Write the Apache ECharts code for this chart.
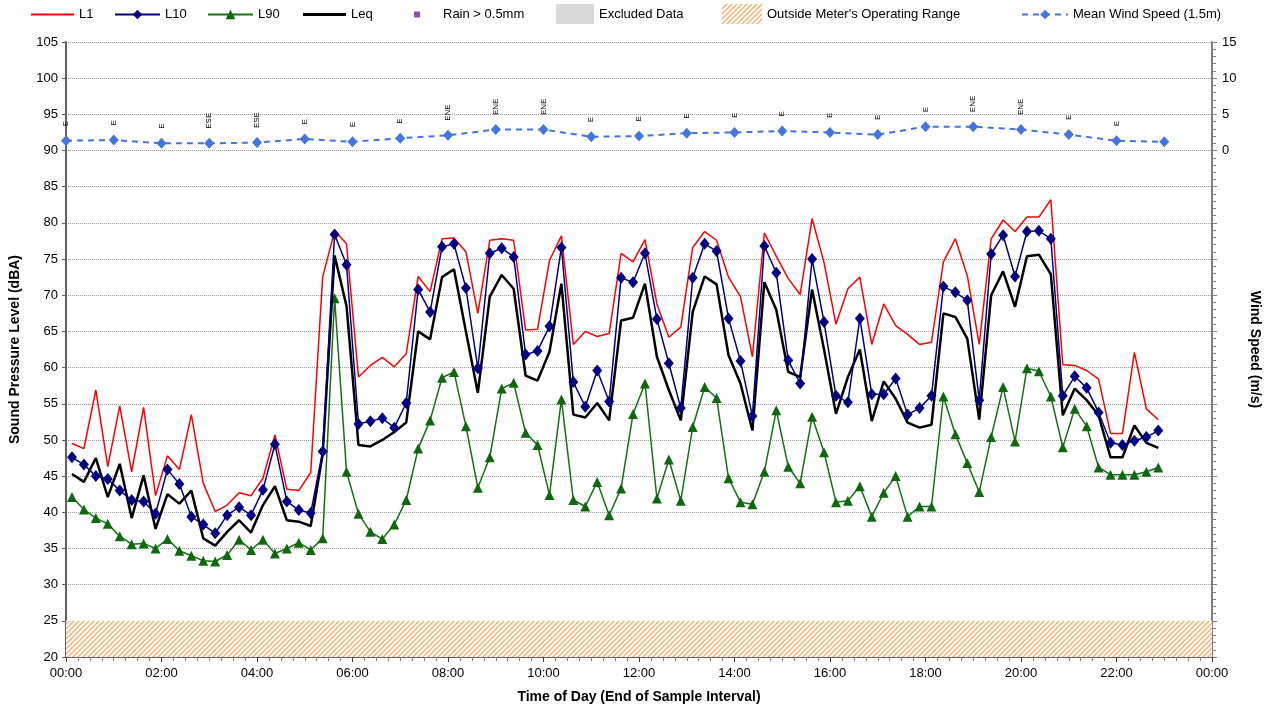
<!DOCTYPE html>
<html>
<head>
<meta charset="utf-8">
<script src="https://cdn.jsdelivr.net/npm/echarts@6/dist/echarts.min.js"></script>
<style>
html,body{margin:0;padding:0;background:#fff;}
#chart{width:1276px;height:714px;}
</style>
</head>
<body>
<div id="chart"></div>
<script>
// ---- data (15-minute samples, plotted at middle of each interval) ----
const sampleStartMin = 7.5;   // first sample position (minutes)
const sampleStepMin = 15;

const L1 = [49.5, 48.8, 56.9, 46.3, 54.7, 45.6, 54.5, 42.3, 47.8, 45.9, 53.5, 44.0, 40.1, 41.0, 42.7, 42.3, 44.7, 50.7, 43.2, 43.0, 45.5, 72.5, 78.9, 77.1, 58.7, 60.3, 61.4, 60.1, 61.9, 72.6, 70.5, 77.8, 77.9,
  76.0, 67.5, 77.6, 77.8, 77.6, 65.2, 65.3, 74.8, 78.2, 63.2, 65.0, 64.3, 64.7, 75.8, 74.6, 77.7, 68.8, 64.2, 65.6, 76.6, 78.8, 77.6, 72.5, 69.8, 61.5, 78.6, 75.4, 72.3, 70.1, 80.6,
  74.5, 66.0, 70.9, 72.5, 63.2, 68.8, 65.8, 64.6, 63.2, 63.5, 74.6, 77.8, 72.7, 63.2, 77.8, 80.4, 78.8, 80.8, 80.8, 83.2, 60.4, 60.3, 59.6, 58.4, 50.9, 50.9, 62.1, 54.3, 52.8];

const L10 = [47.6, 46.6, 45.0, 44.6, 43.0, 41.7, 41.5, 39.8, 45.9, 43.9, 39.4, 38.3, 37.1, 39.6, 40.7, 39.6, 43.1, 49.4, 41.5, 40.3, 39.9, 48.4, 78.4, 74.2, 52.2, 52.6, 53.0, 51.7, 55.1, 70.8, 67.7, 76.7, 77.1,
  71.0, 59.9, 75.8, 76.5, 75.3, 61.8, 62.3, 65.7, 76.6, 58.0, 54.6, 59.6, 55.3, 72.4, 71.8, 75.8, 66.7, 60.6, 54.4, 72.4, 77.1, 76.1, 66.8, 60.9, 53.3, 76.8, 73.1, 61.0, 57.8, 75.0,
  66.3, 56.1, 55.2, 66.8, 56.3, 56.3, 58.5, 53.5, 54.4, 56.1, 71.2, 70.4, 69.3, 55.5, 75.7, 78.3, 72.6, 78.8, 78.9, 77.8, 56.1, 58.8, 57.2, 53.8, 49.6, 49.3, 49.9, 50.4, 51.3];

const L90 = [42.1, 40.4, 39.2, 38.4, 36.7, 35.6, 35.7, 35.0, 36.3, 34.7, 34.0, 33.3, 33.2, 34.1, 36.2, 34.8, 36.2, 34.3, 35.0, 35.8, 34.8, 36.4, 69.6, 45.6, 39.8, 37.3, 36.3, 38.3, 41.7, 48.8, 52.7, 58.6, 59.4,
  51.9, 43.4, 47.6, 57.1, 57.9, 51.0, 49.3, 42.4, 55.6, 41.7, 40.8, 44.2, 39.6, 43.3, 53.6, 57.8, 41.9, 47.3, 41.6, 51.8, 57.3, 55.8, 44.7, 41.4, 41.1, 45.6, 54.1, 46.3, 44.0, 53.2,
  48.3, 41.4, 41.6, 43.6, 39.4, 42.7, 45.0, 39.4, 40.8, 40.8, 56.0, 50.8, 46.8, 42.8, 50.4, 57.3, 49.8, 59.9, 59.5, 56.0, 49.0, 54.3, 51.9, 46.2, 45.2, 45.2, 45.2, 45.6, 46.2];

const Leq = [45.3, 44.2, 47.5, 42.1, 46.7, 39.2, 45.1, 37.7, 42.5, 41.2, 43.0, 36.4, 35.4, 37.3, 38.9, 37.2, 41.0, 43.6, 38.9, 38.7, 38.1, 48.0, 75.5, 68.5, 49.3, 49.1, 50.0, 51.1, 52.4, 65.0, 63.9, 72.5, 73.6,
  65.0, 56.5, 69.8, 72.8, 70.9, 58.9, 58.2, 62.2, 71.6, 53.5, 53.1, 55.1, 52.7, 66.5, 66.9, 71.6, 61.5, 56.9, 52.7, 67.7, 72.6, 71.5, 61.7, 57.8, 51.3, 71.8, 68.0, 59.4, 58.7, 70.8,
  62.5, 53.6, 58.7, 62.5, 52.6, 58.1, 55.7, 52.4, 51.7, 52.1, 67.5, 67.0, 64.0, 52.8, 70.0, 73.3, 68.4, 75.4, 75.6, 72.9, 53.4, 57.1, 55.5, 53.4, 47.6, 47.6, 52.0, 49.6, 48.9];

// hourly wind (1.5 m)
const windHours = [0,1,2,3,4,5,6,7,8,9,10,11,12,13,14,15,16,17,18,19,20,21,22,23];
const windSpeed = [1.35, 1.45, 1.0, 1.0, 1.1, 1.6, 1.2, 1.7, 2.1, 2.9, 2.9, 1.9, 2.0, 2.4, 2.5, 2.7, 2.5, 2.2, 3.3, 3.3, 2.9, 2.2, 1.35, 1.2];
const windDir = ['E','E','E','ESE','ESE','E','E','E','ENE','ENE','ENE','E','E','E','E','E','E','E','E','ENE','ENE','E','E',''];

const rangeBand = [20, 25];        // outside meter's operating range (dBA)
const xTickLabels = ['00:00','02:00','04:00','06:00','08:00','10:00','12:00','14:00','16:00','18:00','20:00','22:00','00:00'];

// ---- build ----
const sampleMin = L1.map((_, i) => sampleStartMin + i * sampleStepMin);
const pair = arr => arr.map((v, i) => [sampleMin[i], v]);
const windData = windSpeed.map((v, i) => [windHours[i] * 60, v]);

function hatch() {
  const c = document.createElement('canvas');
  c.width = 5; c.height = 5;
  const g = c.getContext('2d');
  g.fillStyle = '#ffffff'; g.fillRect(0, 0, 5, 5);
  g.strokeStyle = '#F7AD6A'; g.lineWidth = 1.4;
  g.beginPath();
  g.moveTo(-1, 6); g.lineTo(6, -1);
  g.moveTo(-3.5, 3.5); g.lineTo(3.5, -3.5);
  g.moveTo(1.5, 8.5); g.lineTo(8.5, 1.5);
  g.stroke();
  return c;
}
const hatchColor = { image: hatch(), repeat: 'repeat' };

const FONT = '"Liberation Sans", Arial, sans-serif';
const TXT = { fontSize: 13, color: '#000', fontFamily: FONT };
const legendBase = { top: 8, padding: 0, itemGap: 0, textStyle: TXT, selectedMode: false };
const lg = o => Object.assign({}, legendBase, o);

const chart = echarts.init(document.getElementById('chart'), null, { renderer: 'canvas' });
chart.setOption({
  animation: false,
  backgroundColor: '#fff',
  textStyle: { fontFamily: FONT },
  grid: { left: 64, right: 64, top: 42, bottom: 57, containLabel: false },
  legend: [
    lg({ left: 31, top: 8, itemWidth: 43, itemHeight: 2, data: [{ name: 'L1', icon: 'rect' }] }),
    lg({ left: 114, itemWidth: 45, itemHeight: 12, data: ['L10'] }),
    lg({ left: 207, itemWidth: 45, itemHeight: 12, data: ['L90'] }),
    lg({ left: 303, top: 8, itemWidth: 43, itemHeight: 3, data: [{ name: 'Leq', icon: 'rect' }] }),
    lg({ left: 414, top: 8, itemWidth: 6, itemHeight: 6, data: ['Rain > 0.5mm'],
      textStyle: Object.assign({}, TXT, { padding: [0, 0, 0, 18] }) }),
    lg({ left: 556, top: 4, itemWidth: 38, itemHeight: 20, data: [{ name: 'Excluded Data', icon: 'rect' }] }),
    lg({ left: 722, top: 4, itemWidth: 40, itemHeight: 20, data: [{ name: "Outside Meter's Operating Range", icon: 'rect' }] }),
    lg({ left: 1021, itemWidth: 46, itemHeight: 12, data: ['Mean Wind Speed (1.5m)'] })
  ],
  xAxis: {
    type: 'value', min: 0, max: 1440, interval: 120,
    name: 'Time of Day (End of Sample Interval)', nameLocation: 'middle', nameGap: 33,
    nameTextStyle: { fontSize: 14, fontWeight: 'bold', color: '#000', fontFamily: FONT },
    axisLine: { show: true, onZero: false, lineStyle: { color: '#404040', width: 1.5 } },
    axisTick: { show: true, length: 5, lineStyle: { color: '#404040' } },
    minorTick: { show: true, splitNumber: 8, length: 4, lineStyle: { color: '#808080' } },
    axisLabel: { fontSize: 13, color: '#000', margin: 10, formatter: v => xTickLabels[Math.round(v / 120)] },
    splitLine: { show: false }
  },
  yAxis: [
    {
      type: 'value', min: 20, max: 105, interval: 5,
      name: 'Sound Pressure Level (dBA)', nameLocation: 'middle', nameGap: 44,
      nameTextStyle: { fontSize: 14, fontWeight: 'bold', color: '#000', fontFamily: FONT },
      axisLine: { show: true, onZero: false, lineStyle: { color: '#606060', width: 2 } },
      axisTick: { show: true, length: 4, lineStyle: { color: '#606060' } },
      axisLabel: { fontSize: 13, color: '#000', margin: 8 },
      splitLine: { show: true, lineStyle: { color: '#9a9a9a', type: 'dotted', width: 1 } }
    },
    {
      type: 'value', min: -70, max: 15, interval: 5, position: 'right',
      name: 'Wind Speed (m/s)', nameLocation: 'middle', nameGap: 36, nameRotate: -90,
      nameTextStyle: { fontSize: 14, fontWeight: 'bold', color: '#000', fontFamily: FONT },
      axisLine: { show: true, onZero: false, lineStyle: { color: '#808080', width: 2 } },
      axisTick: { show: true, length: 5, lineStyle: { color: '#808080' } },
      minorTick: { show: true, splitNumber: 5, length: 4, lineStyle: { color: '#808080' } },
      axisLabel: { fontSize: 13, color: '#000', margin: 10, formatter: v => (v >= 0 ? String(v) : '') },
      splitLine: { show: false }
    }
  ],
  series: [
    {
      name: "Outside Meter's Operating Range", type: 'bar', data: [],
      itemStyle: { color: hatchColor },
      markArea: { silent: true, itemStyle: { color: hatchColor, borderWidth: 0 },
        data: [[{ yAxis: rangeBand[0] }, { yAxis: rangeBand[1] }]] }
    },
    { name: 'Excluded Data', type: 'bar', data: [], itemStyle: { color: '#D9D9D9' } },
    { name: 'Rain > 0.5mm', type: 'scatter', data: [], symbol: 'rect', itemStyle: { color: '#7B1FA2' } },
    {
      name: 'Mean Wind Speed (1.5m)', type: 'line', yAxisIndex: 1, data: windData,
      symbol: 'diamond', symbolSize: [10, 11],
      lineStyle: { color: '#4573E0', width: 2, type: [6, 5] },
      itemStyle: { color: '#4573E0' },
      label: {
        show: true, position: 'top', distance: 9, rotate: 90, align: 'left', verticalAlign: 'middle',
        fontSize: 8, color: '#000', fontFamily: FONT,
        formatter: p => windDir[p.dataIndex]
      },
      z: 3
    },
    {
      name: 'L1', type: 'line', data: pair(L1), symbol: 'none',
      lineStyle: { color: '#FF0000', width: 1.5 }, itemStyle: { color: '#FF0000' }, z: 4
    },
    {
      name: 'L90', type: 'line', data: pair(L90), symbol: 'triangle', symbolSize: 10,
      lineStyle: { color: '#137013', width: 1.5 }, itemStyle: { color: '#0E680E' }, z: 5
    },
    {
      name: 'Leq', type: 'line', data: pair(Leq), symbol: 'none',
      lineStyle: { color: '#000000', width: 2.5 }, itemStyle: { color: '#000000' }, z: 6
    },
    {
      name: 'L10', type: 'line', data: pair(L10), symbol: 'diamond', symbolSize: [10, 12],
      lineStyle: { color: '#000080', width: 1.5 }, itemStyle: { color: '#000080' }, z: 7
    }
  ]
});
</script>
</body>
</html>
